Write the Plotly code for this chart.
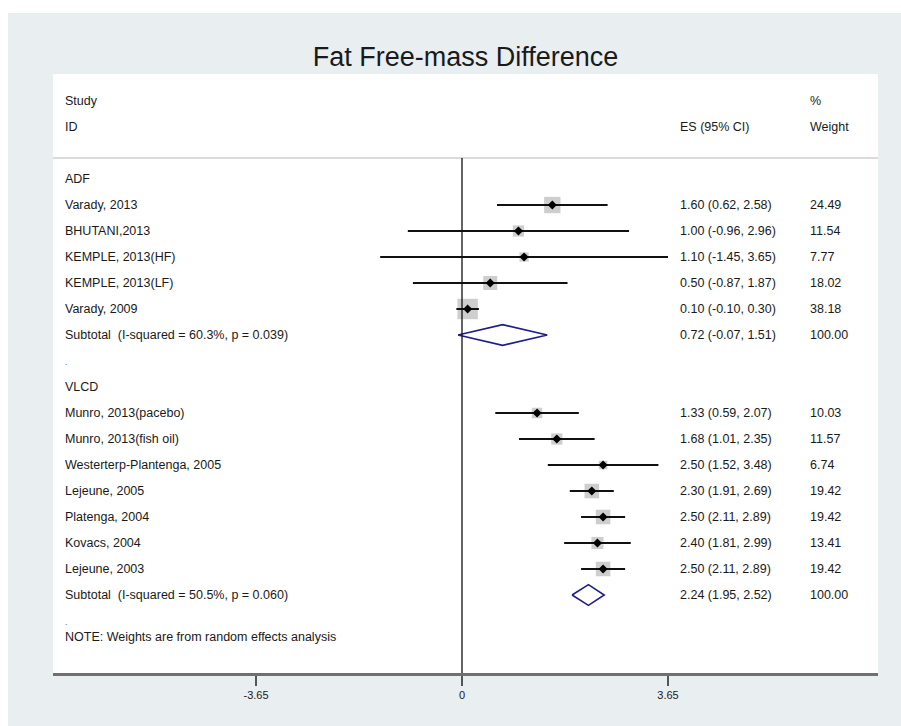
import plotly.graph_objects as go

# ---------------- data ----------------
title_text = "Fat Free-mass Difference"

adf_label = "ADF"
adf_studies = ["Varady, 2013", "BHUTANI,2013", "KEMPLE, 2013(HF)", "KEMPLE, 2013(LF)", "Varady, 2009"]
adf_es = [1.60, 1.00, 1.10, 0.50, 0.10]
adf_lo = [0.62, -0.96, -1.45, -0.87, -0.10]
adf_hi = [2.58, 2.96, 3.65, 1.87, 0.30]
adf_weight = [24.49, 11.54, 7.77, 18.02, 38.18]
adf_subtotal = [0.72, -0.07, 1.51]
adf_subtotal_weight = 100.00
adf_subtotal_label = "Subtotal  (I-squared = 60.3%, p = 0.039)"

vlcd_label = "VLCD"
vlcd_studies = ["Munro, 2013(pacebo)", "Munro, 2013(fish oil)", "Westerterp-Plantenga, 2005",
                "Lejeune, 2005", "Platenga, 2004", "Kovacs, 2004", "Lejeune, 2003"]
vlcd_es = [1.33, 1.68, 2.50, 2.30, 2.50, 2.40, 2.50]
vlcd_lo = [0.59, 1.01, 1.52, 1.91, 2.11, 1.81, 2.11]
vlcd_hi = [2.07, 2.35, 3.48, 2.69, 2.89, 2.99, 2.89]
vlcd_weight = [10.03, 11.57, 6.74, 19.42, 19.42, 13.41, 19.42]
vlcd_subtotal = [2.24, 1.95, 2.52]
vlcd_subtotal_weight = 100.00
vlcd_subtotal_label = "Subtotal  (I-squared = 50.5%, p = 0.060)"

note_text = "NOTE: Weights are from random effects analysis"
tick_vals = [-3.65, 0, 3.65]
tick_text = ["-3.65", "0", "3.65"]

# ---------------- layout helpers ----------------
W, H = 901, 726
ML, MR, MT, MB = 53, 23, 74, 53
FONT = "Liberation Sans, Arial, Helvetica, sans-serif"
TXT = "#1a1a1a"
FS = 12.5
GREY_BG = "#e9eef1"

groups = [
    (adf_label, adf_studies, adf_es, adf_lo, adf_hi, adf_weight, adf_subtotal,
     adf_subtotal_weight, adf_subtotal_label),
    (vlcd_label, vlcd_studies, vlcd_es, vlcd_lo, vlcd_hi, vlcd_weight, vlcd_subtotal,
     vlcd_subtotal_weight, vlcd_subtotal_label),
]

study_rows, study_es, study_lo, study_hi, study_w = [], [], [], [], []
annotations = []
diamonds = []


def xpaper(px):
    return (px - ML) / (W - ML - MR)


def add_text(text, row, xpx, size=FS):
    annotations.append(dict(text=text, x=xpaper(xpx), xref="paper", y=row, yref="y",
                            xanchor="left", yanchor="middle", showarrow=False,
                            font=dict(family=FONT, size=size, color=TXT)))


row = 0
for (glabel, names, es, lo, hi, w, sub, subw, sublabel) in groups:
    add_text(glabel, row, 63)
    row += 1
    for n, e, l, h, ww in zip(names, es, lo, hi, w):
        add_text(n, row, 63)
        add_text(f"{e:.2f} ({l:.2f}, {h:.2f})", row, 678)
        add_text(f"{ww:.2f}", row, 808)
        study_rows.append(row)
        study_es.append(e)
        study_lo.append(l)
        study_hi.append(h)
        study_w.append(ww)
        row += 1
    add_text(sublabel, row, 63)
    add_text(f"{sub[0]:.2f} ({sub[1]:.2f}, {sub[2]:.2f})", row, 678)
    add_text(f"{subw:.2f}", row, 808)
    diamonds.append((row, sub))
    row += 1
    add_text(".", row + 0.05, 63, size=8)
    row += 1

add_text(note_text, row - 1 + 0.62, 63)

# header
add_text("Study", -3, 63)
add_text("ID", -2, 63)
add_text("ES (95% CI)", -2, 678)
add_text("%", -3, 808)
add_text("Weight", -2, 808)

row_px = 26.0
y_top = -(179 - MT) / row_px
y_bot = (H - MB - 179) / row_px
header_line = -(179 - 158) / row_px

fig = go.Figure()

# squares (weight boxes)
fig.add_trace(go.Scatter(
    x=study_es, y=study_rows, mode="markers",
    marker=dict(symbol="square", size=[3.3 * (v ** 0.5) for v in study_w],
                color="#b9b9b9", line=dict(width=0)),
    hoverinfo="skip", showlegend=False))

# confidence intervals
fig.add_trace(go.Scatter(
    x=study_es, y=study_rows, mode="markers",
    marker=dict(size=1, color="rgba(0,0,0,0)"),
    error_x=dict(type="data", symmetric=False,
                 array=[h - e for h, e in zip(study_hi, study_es)],
                 arrayminus=[e - l for e, l in zip(study_es, study_lo)],
                 width=0, thickness=2, color="#111111"),
    hoverinfo="skip", showlegend=False))

# point estimates
fig.add_trace(go.Scatter(
    x=study_es, y=study_rows, mode="markers",
    marker=dict(symbol="diamond", size=7, color="#000000"),
    hoverinfo="skip", showlegend=False))

# subtotal diamonds
for r, (e, l, h) in diamonds:
    fig.add_trace(go.Scatter(
        x=[l, e, h, e, l], y=[r, r - 0.4, r, r + 0.4, r],
        mode="lines", line=dict(color="#1e1e8a", width=1.6),
        hoverinfo="skip", showlegend=False))

PW = W - ML - MR
PH = H - MT - MB
shapes = [
    # white outer border strips (top and left)
    dict(type="rect", xref="paper", yref="paper",
         x0=-ML / PW - 0.01, x1=(W - ML) / PW + 0.01,
         y0=(H - MB - 13) / PH, y1=(H - MB) / PH + 0.01,
         fillcolor="white", line=dict(width=0), layer="below"),
    dict(type="rect", xref="paper", yref="paper",
         x0=-ML / PW - 0.01, x1=(8 - ML) / PW,
         y0=-MB / PH - 0.01, y1=(H - MB) / PH + 0.01,
         fillcolor="white", line=dict(width=0), layer="below"),
    # header separator
    dict(type="line", xref="paper", yref="y", x0=0, x1=1, y0=header_line, y1=header_line,
         line=dict(color="#cfcfcf", width=1.5)),
    # null line
    dict(type="line", xref="x", yref="y", x0=0, x1=0, y0=header_line, y1=y_bot,
         line=dict(color="#111111", width=1.3)),
]

px_per_unit = (668 - 462) / 3.65
x_min = (ML - 462) / px_per_unit
x_max = (W - MR - 462) / px_per_unit

fig.update_layout(
    width=W, height=H,
    margin=dict(l=ML, r=MR, t=MT, b=MB, autoexpand=False),
    paper_bgcolor=GREY_BG, plot_bgcolor="white",
    title=dict(text=title_text, x=0.5, xref="paper", xanchor="center",
               y=1 - 57 / H, yanchor="middle",
               font=dict(family=FONT, size=27, color="#1a1a1a")),
    xaxis=dict(range=[x_min, x_max], tickvals=tick_vals, ticktext=tick_text,
               ticks="outside", ticklen=10, tickwidth=1.5, tickcolor="#555555",
               showline=True, linecolor="#707070", linewidth=3,
               showgrid=False, zeroline=False, fixedrange=True,
               tickfont=dict(family=FONT, size=11, color=TXT)),
    yaxis=dict(range=[y_bot, y_top], visible=False, fixedrange=True),
    shapes=shapes,
    annotations=annotations,
    showlegend=False,
)

fig.write_html("out.html",
               config={"displayModeBar": False, "staticPlot": True},
               post_script="document.body.style.margin='0';document.body.style.padding='0';")
